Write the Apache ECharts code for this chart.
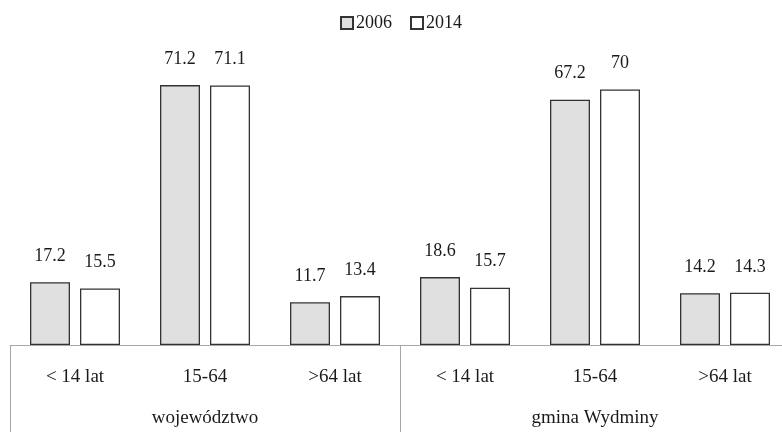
<!DOCTYPE html>
<html>
<head>
<meta charset="utf-8">
<script src="https://cdn.jsdelivr.net/npm/echarts@6/dist/echarts.min.js"></script>
<style>
  html, body { margin: 0; padding: 0; background: #fff; }
  #chart { width: 782px; height: 432px; }
</style>
</head>
<body>
<div id="chart"></div>
<script>
// Age groups per region, share of population (%)
const ageGroups = ['< 14 lat', '15-64', '>64 lat', '< 14 lat', '15-64', '>64 lat'];
const regions = ['województwo', 'gmina Wydminy'];
const seriesNames = ['2006', '2014'];
const values2006 = [17.2, 71.2, 11.7, 18.6, 67.2, 14.2];
const values2014 = [15.5, 71.1, 13.4, 15.7, 70, 14.3];

const FONT = '"Liberation Serif", "DejaVu Serif", serif';
const chart = echarts.init(document.getElementById('chart'), null, { renderer: 'canvas' });

const barLabel = {
  show: true,
  position: 'top',
  distance: 17,
  fontFamily: FONT,
  fontSize: 18,
  color: '#1a1a1a'
};

chart.setOption({
  animation: false,
  backgroundColor: '#fff',
  legend: {
    top: 9,
    left: 335,
    icon: 'rect',
    itemWidth: 12,
    itemHeight: 12,
    itemGap: 18,
    textStyle: { fontFamily: FONT, fontSize: 18, color: '#1a1a1a', padding: [0, 0, 0, -2] },
    data: seriesNames
  },
  // the plot runs slightly past the right edge, so the last group boundary is off-canvas
  grid: { left: 10, right: -8, top: 53, bottom: 87, containLabel: false, outerBoundsMode: 'none' },
  xAxis: [
    {
      type: 'category',
      data: ageGroups,
      position: 'bottom',
      axisLine: { show: true, lineStyle: { color: '#a6a6a6', width: 1 } },
      axisTick: { show: false },
      axisLabel: { margin: 23, fontFamily: FONT, fontSize: 19, color: '#1a1a1a' }
    },
    {
      type: 'category',
      data: regions,
      position: 'bottom',
      axisLine: { show: false },
      axisTick: { show: true, length: 90, lineStyle: { color: '#a6a6a6', width: 1 } },
      axisLabel: { margin: 64, fontFamily: FONT, fontSize: 19, color: '#1a1a1a' }
    }
  ],
  yAxis: { type: 'value', min: 0, max: 80, show: false, splitLine: { show: false } },
  series: [
    {
      name: seriesNames[0],
      type: 'bar',
      xAxisIndex: 0,
      data: values2006,
      barWidth: 40,
      barGap: '25%',
      itemStyle: { color: '#e0e0e0', borderColor: '#333', borderWidth: 1.3 },
      label: barLabel
    },
    {
      name: seriesNames[1],
      type: 'bar',
      xAxisIndex: 0,
      data: values2014,
      barWidth: 40,
      barGap: '25%',
      itemStyle: { color: '#ffffff', borderColor: '#333', borderWidth: 1.3 },
      label: barLabel
    }
  ]
});
</script>
</body>
</html>
